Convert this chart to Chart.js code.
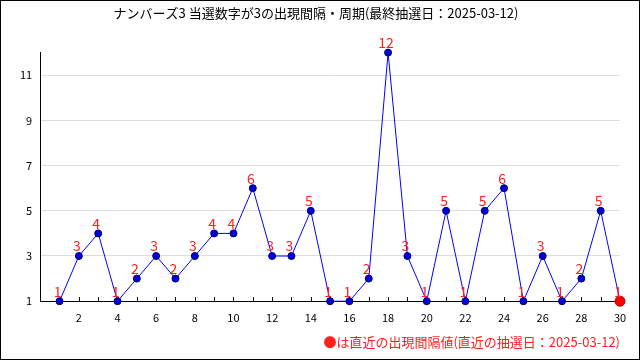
<!DOCTYPE html>
<html>
<head>
<meta charset="utf-8">
<script src="https://cdn.jsdelivr.net/npm/chart.js@4/dist/chart.umd.min.js"></script>
<style>
  html, body { margin: 0; padding: 0; background: #fff; }
  #wrap { width: 640px; height: 360px; position: relative; box-sizing: border-box; }
  #frame { position: absolute; left: 0; top: 0; width: 638px; height: 358px; border: 1px solid #000; pointer-events: none; }
</style>
</head>
<body>
<div id="wrap">
  <canvas id="chart" width="640" height="360"></canvas>
  <div id="frame"></div>
</div>
<script>
const draws = [1, 2, 3, 4, 5, 6, 7, 8, 9, 10, 11, 12, 13, 14, 15, 16, 17, 18, 19, 20, 21, 22, 23, 24, 25, 26, 27, 28, 29, 30];
const intervals = [1, 3, 4, 1, 2, 3, 2, 3, 4, 4, 6, 3, 3, 5, 1, 1, 2, 12, 3, 1, 5, 1, 5, 6, 1, 3, 1, 2, 5, 1];
const yTicks = [1, 3, 5, 7, 9, 11];
const titleText = "ナンバーズ3 当選数字が3の出現間隔・周期(最終抽選日：2025-03-12)";
const noteText = "●は直近の出現間隔値(直近の抽選日：2025-03-12)";

const font = "'Noto Sans CJK JP', 'DejaVu Sans', sans-serif";

// red numbers above each point
const valueLabels = {
  id: "valueLabels",
  afterDatasetsDraw(chart) {
    const ctx = chart.ctx;
    const meta = chart.getDatasetMeta(0);
    ctx.save();
    ctx.fillStyle = "#ff2020";
    ctx.font = "14px " + font;
    ctx.textAlign = "center";
    ctx.textBaseline = "bottom";
    meta.data.forEach((pt, i) => {
      ctx.fillText(String(intervals[i]), pt.x - 2, pt.y - 3);
    });
    ctx.restore();
  }
};

// small tick marks drawn inward on the x axis
const innerTicks = {
  id: "innerTicks",
  beforeDatasetsDraw(chart) {
    const ctx = chart.ctx;
    const x = chart.scales.x;
    const bottom = chart.chartArea.bottom;
    ctx.save();
    ctx.strokeStyle = "#000";
    ctx.lineWidth = 1;
    for (let v = 1; v <= 30; v++) {
      const px = Math.round(x.getPixelForValue(v)) + 0.5;
      ctx.beginPath();
      ctx.moveTo(px, bottom);
      ctx.lineTo(px, bottom - 4);
      ctx.stroke();
    }
    ctx.restore();
  }
};

const lastIdx = intervals.length - 1;

new Chart(document.getElementById("chart"), {
  type: "line",
  data: {
    datasets: [{
      data: draws.map((d, i) => ({ x: d, y: intervals[i] })),
      borderColor: "#0000ff",
      borderWidth: 1,
      tension: 0,
      clip: false,
      pointRadius: intervals.map((v, i) => i === lastIdx ? 5 : 3.5),
      pointBackgroundColor: intervals.map((v, i) => i === lastIdx ? "#ff0000" : "#0000dd"),
      pointBorderColor: intervals.map((v, i) => i === lastIdx ? "#aa0000" : "#000066"),
      pointBorderWidth: 1
    }]
  },
  options: {
    responsive: false,
    animation: false,
    layout: { padding: { left: 12, right: 20, top: 5, bottom: 4 } },
    plugins: {
      legend: { display: false },
      tooltip: { enabled: false },
      title: {
        display: true,
        text: titleText,
        color: "#000",
        font: { family: font, size: 13, weight: "normal" },
        padding: { top: 0, bottom: 32 }
      },
      subtitle: {
        display: true,
        text: noteText,
        position: "bottom",
        align: "end",
        color: "#ff2020",
        font: { family: font, size: 13, weight: "normal" },
        padding: { top: 8, bottom: 6 }
      }
    },
    scales: {
      x: {
        type: "linear",
        min: 0,
        max: 30,
        border: { color: "#000", width: 1 },
        grid: { display: false },
        ticks: {
          stepSize: 2,
          color: "#000",
          font: { family: font, size: 11 },
          padding: 2,
          maxRotation: 0,
          callback: (v) => v === 0 ? "" : v
        }
      },
      y: {
        min: 1,
        max: 12,
        border: { color: "#000", width: 1 },
        grid: { color: "#dddddd", drawTicks: false },
        afterBuildTicks(scale) {
          scale.ticks = yTicks.map(v => ({ value: v }));
        },
        ticks: {
          color: "#000",
          font: { family: font, size: 11 },
          padding: 8
        }
      }
    }
  },
  plugins: [valueLabels, innerTicks]
});
</script>
</body>
</html>
